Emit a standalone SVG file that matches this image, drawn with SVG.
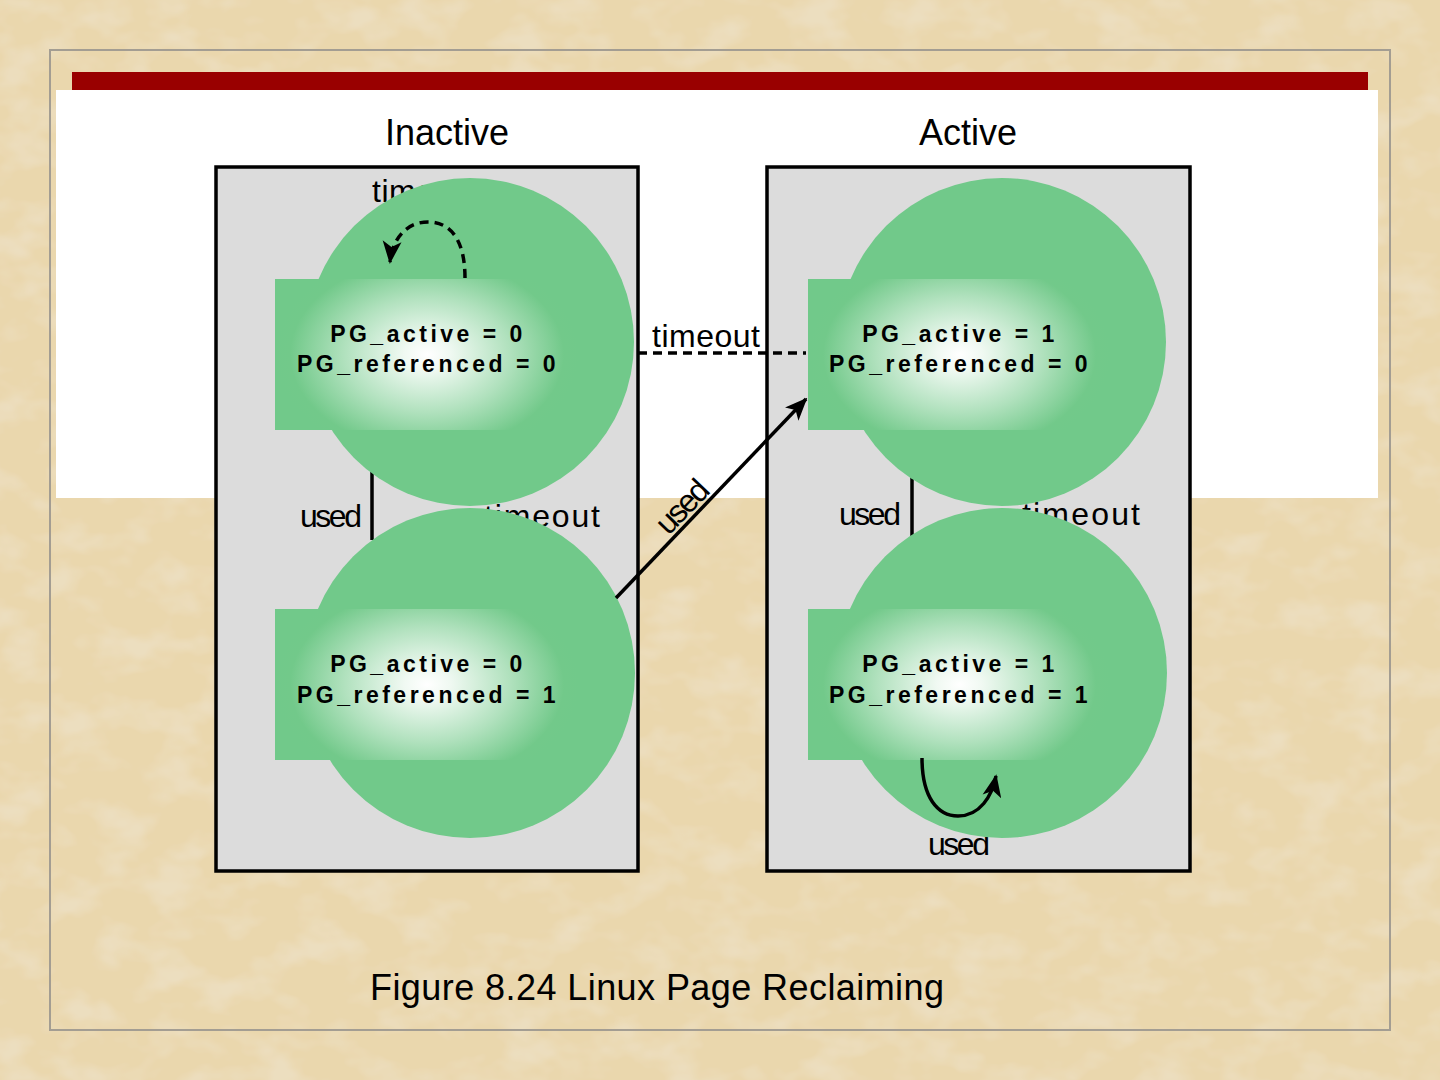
<svg xmlns="http://www.w3.org/2000/svg" width="1440" height="1080" viewBox="0 0 1440 1080">
<defs>
  <filter id="paper" x="0" y="0" width="100%" height="100%">
    <feTurbulence type="fractalNoise" baseFrequency="0.02 0.03" numOctaves="3" seed="7" result="n"/>
    <feColorMatrix in="n" type="matrix" values="0 0 0 0 0.84  0 0 0 0 0.73  0 0 0 0 0.52  3 0 0 0 -1.35" result="c"/>
    <feComposite in="c" in2="SourceGraphic" operator="over"/>
  </filter>
  <radialGradient id="glow" cx="0.5" cy="0.5" r="0.5" gradientTransform="translate(0.5 0.5) scale(1 1.4) translate(-0.5 -0.5)">
    <stop offset="0" stop-color="#ffffff"/>
    <stop offset="0.15" stop-color="#f0f9f2"/>
    <stop offset="0.55" stop-color="#b0e1bd"/>
    <stop offset="0.9" stop-color="#72c98a"/>
    <stop offset="1" stop-color="#71c98a"/>
  </radialGradient>
  <marker id="arrow" viewBox="0 0 12 10" refX="11" refY="5" markerWidth="6.5" markerHeight="5.5" orient="auto" markerUnits="strokeWidth">
    <path d="M0,0 L12,5 L0,10 L3,5 z" fill="#000"/>
  </marker>
  <style>
    .box { fill: #dcdcdc; stroke: #000; stroke-width: 3.5; }
    .circ { fill: #71c98a; }
    .inner { fill: url(#glow); }
    .state { font-family: "Liberation Sans", Arial, sans-serif; font-size: 23px; font-weight: bold; letter-spacing: 3.5px; fill: #000; text-anchor: middle; }
    .lbl { font-family: "Liberation Sans", Arial, sans-serif; font-size: 32px; fill: #000; }
    .title { font-family: "Liberation Sans", Arial, sans-serif; font-size: 36px; fill: #000; text-anchor: middle; }
    .cap { font-family: "Liberation Sans", Arial, sans-serif; font-size: 36px; fill: #000; }
    .edge { fill: none; stroke: #000; stroke-width: 3.5; }
    .dash { stroke-dasharray: 9 6; }
  </style>
</defs>

<rect x="0" y="0" width="1440" height="1080" fill="#ead7ad" filter="url(#paper)"/>
<rect x="50" y="50" width="1340" height="980" fill="none" stroke="#a39d92" stroke-width="2"/>
<rect x="56" y="90" width="1322" height="408" fill="#ffffff"/>
<rect x="72" y="72" width="1296" height="18" fill="#990000"/>

<text class="title" x="447" y="145">Inactive</text>
<text class="title" x="968" y="145">Active</text>

<g id="inactive-box"><rect class="box" x="216" y="167" width="422" height="704"/></g>
<g id="active-box"><rect class="box" x="767" y="167" width="423" height="704"/></g>

<!-- labels and lines partially hidden behind the circles -->
<g id="hidden-parts">
  <text class="lbl" x="372" y="202" textLength="108">timeout</text>
  <line class="edge" x1="372" y1="470" x2="372" y2="540"/>
  <line class="edge" x1="912" y1="470" x2="912" y2="540"/>
  <text class="lbl" x="300" y="527" textLength="62">used</text>
  <text class="lbl" x="484" y="527" textLength="116">timeout</text>
  <text class="lbl" x="839" y="525" textLength="62">used</text>
  <text class="lbl" x="1022" y="525" textLength="118">timeout</text>
  <text class="lbl" x="928" y="855" textLength="62">used</text>
</g>

<g id="node-inactive-unref">
  <circle class="circ" cx="470" cy="342" r="164"/>
  <rect class="inner" x="275" y="279" width="304" height="151"/>
  <text class="state" x="428" y="342">PG_active = 0</text>
  <text class="state" x="428" y="372">PG_referenced = 0</text>
</g>
<g id="node-inactive-ref">
  <circle class="circ" cx="470" cy="673" r="165"/>
  <rect class="inner" x="275" y="609" width="304" height="151"/>
  <text class="state" x="428" y="672">PG_active = 0</text>
  <text class="state" x="428" y="703">PG_referenced = 1</text>
</g>
<g id="node-active-unref">
  <circle class="circ" cx="1002" cy="342" r="164"/>
  <rect class="inner" x="808" y="279" width="303" height="151"/>
  <text class="state" x="960" y="342">PG_active = 1</text>
  <text class="state" x="960" y="372">PG_referenced = 0</text>
</g>
<g id="node-active-ref">
  <circle class="circ" cx="1002" cy="673" r="165"/>
  <rect class="inner" x="808" y="609" width="303" height="151"/>
  <text class="state" x="960" y="672">PG_active = 1</text>
  <text class="state" x="960" y="703">PG_referenced = 1</text>
</g>

<g id="connectors">
  <path class="edge dash" d="M465,278 C465,242 452,222 428,222 C404,222 392,242 390,262" marker-end="url(#arrow)"/>
  <line class="edge dash" x1="638" y1="353" x2="806" y2="353"/>
  <text class="lbl" x="652" y="347" textLength="108">timeout</text>
  <line class="edge" x1="616" y1="598" x2="806" y2="399" marker-end="url(#arrow)"/>
  <text class="lbl" transform="translate(690,514) rotate(-46)" text-anchor="middle" textLength="62">used</text>
  <path class="edge" d="M922,758 C922,798 938,816 958,816 C980,816 992,796 996,776" marker-end="url(#arrow)"/>
</g>

<text class="cap" x="370" y="1000" textLength="574">Figure 8.24  Linux Page Reclaiming</text>
</svg>
